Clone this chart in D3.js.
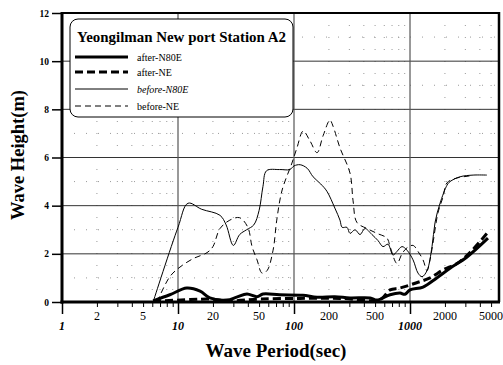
<!DOCTYPE html>
<html>
<head>
<meta charset="utf-8">
<script src="https://cdn.jsdelivr.net/npm/d3@7/dist/d3.min.js"></script>
<style>
  body { margin: 0; background: #fff; }
  text { font-family: "Liberation Serif", "DejaVu Serif", serif; }
</style>
</head>
<body>
<svg id="chart" width="503" height="365"></svg>
<script>
// wave period (sec) / wave height (m)
const afterN80E = [[6.1,0.05],[8.5,0.3],[11.9,0.58],[15.5,0.45],[18.8,0.17],[26.4,0.08],[32,0.2],[39.3,0.33],
  [48,0.22],[54,0.33],[75,0.3],[119,0.28],[158,0.2],[225,0.22],[304,0.17],[453,0.17],[519,0.08],[673,0.3],
  [820,0.37],[905,0.32],[1000,0.5],[1295,0.62],[1700,1.0],[2213,1.4],[3100,1.87],[4700,2.65]];
const afterNE = [[6.1,0.03],[12.7,0.1],[18.8,0.12],[28,0.05],[50.8,0.12],[113,0.15],[249,0.15],[550,0.1],
  [673,0.5],[820,0.58],[1140,0.8],[1487,1.0],[1923,1.33],[2540,1.6],[3250,2.03],[4700,2.9]];
const beforeN80E = [[6.1,0],[10,3.1],[12.2,4.1],[16,3.85],[23,3.6],[26,3.2],[30,2.35],[34,2.8],[39,3.0],
  [45,3.2],[50,3.8],[54,4.8],[58,5.45],[75,5.5],[92,5.5],[100,5.65],[113,5.7],[130,5.55],[146,5.2],[170,4.9],
  [192,4.6],[225,3.9],[249,3.4],[260,3.1],[286,3.1],[304,2.85],[336,3.0],[371,2.8],[409,3.05],[470,2.8],
  [530,2.55],[585,2.3],[646,2.4],[713,1.95],[772,2.1],[853,2.3],[942,2.15],[1062,1.75],[1172,1.2],[1269,1.05],
  [1401,1.3],[1548,2.3],[1643,3.3],[1815,4.1],[2085,4.85],[2213,5.0],[2700,5.2],[3500,5.27],[4600,5.27]];
const beforeNE = [[6.6,0],[8.5,1.05],[10.4,1.45],[13.5,1.8],[17.8,2.05],[20,2.3],[23,3.05],[28,3.4],[34,3.5],
  [40,3.1],[43.5,2.3],[48,1.75],[53,1.2],[58.5,1.3],[66,2.15],[71,3.4],[79,4.65],[96,5.77],[106,6.4],[120,7.1],
  [137,6.7],[158,6.2],[178,6.9],[204,7.55],[217,7.3],[249,6.4],[304,5.35],[323,4.2],[349,3.3],[426,3.05],
  [519,2.85],[634,2.65],[673,2.3],[772,1.6],[853,2.0],[942,2.25],[1062,2.35],[1172,2.1],[1295,1.75],[1401,1.3],
  [1487,1.75],[1578,2.45],[1742,3.7],[1923,4.35],[2085,4.95],[2540,5.15],[3100,5.22],[3500,5.26]];

const yTicks = [0, 2, 4, 6, 8, 10, 12];
const yMinor = [1, 3, 5, 7, 9, 11];
const xMajor = [1, 10, 100, 1000];
const xLabeled = [2, 5, 20, 50, 200, 500, 2000, 5000];
const seriesNames = ["after-N80E", "after-NE", "before-N80E", "before-NE"];

let svg = d3.select("#chart");
let pLeft = 62, pRight = 499, pTop = 13, pBottom = 302;

let x = d3.scaleLog().domain([1, 5850]).range([pLeft, pRight]);
let y = d3.scaleLinear().domain([0, 12]).range([pBottom, pTop]);

let xMinor = [];
for (let dec = 1; dec <= 1000; dec *= 10) {
    for (let k = 2; k <= 9; k++) {
        if (dec * k < 5850) xMinor.push(dec * k);
    }
}

// dotted minor grid (very faint in the original scan)
let grid = svg.append("g");
grid.selectAll(".vmin").data(xMinor).join("line")
    .attr("x1", d => x(d)).attr("x2", d => x(d))
    .attr("y1", pTop).attr("y2", pBottom)
    .attr("stroke", "#999").attr("stroke-width", 1).attr("stroke-dasharray", "1,11");
grid.selectAll(".hmin").data(yMinor).join("line")
    .attr("x1", pLeft).attr("x2", pRight)
    .attr("y1", d => y(d)).attr("y2", d => y(d))
    .attr("stroke", "#999").attr("stroke-width", 1).attr("stroke-dasharray", "1,11");

// solid major grid
grid.selectAll(".hmaj").data(yTicks.slice(1, -1)).join("line")
    .attr("x1", pLeft).attr("x2", pRight)
    .attr("y1", d => y(d)).attr("y2", d => y(d))
    .attr("stroke", "#333").attr("stroke-width", 1);
grid.selectAll(".vmaj").data([10, 100, 1000]).join("line")
    .attr("x1", d => x(d)).attr("x2", d => x(d))
    .attr("y1", pTop).attr("y2", pBottom)
    .attr("stroke", "#555").attr("stroke-width", 1.2);

// curves
let line = d3.line()
    .x(d => x(d[0]))
    .y(d => y(d[1]))
    .curve(d3.curveCatmullRom);

let styles = [
    {data: afterN80E, w: 3, dash: null},
    {data: afterNE, w: 3, dash: "8,4"},
    {data: beforeN80E, w: 1, dash: null},
    {data: beforeNE, w: 1, dash: "6,4"}
];

svg.selectAll(".curve").data(styles).join("path")
    .attr("d", d => line(d.data))
    .attr("fill", "none")
    .attr("stroke", "#000")
    .attr("stroke-width", d => d.w)
    .attr("stroke-dasharray", d => d.dash);

// frame
svg.append("line").attr("x1", pLeft).attr("x2", pRight).attr("y1", pTop).attr("y2", pTop)
    .attr("stroke", "#000").attr("stroke-width", 2);
svg.append("line").attr("x1", pRight).attr("x2", pRight).attr("y1", pTop - 1).attr("y2", pBottom)
    .attr("stroke", "#000").attr("stroke-width", 2.5);
svg.append("line").attr("x1", pLeft).attr("x2", pLeft).attr("y1", pTop - 1).attr("y2", pBottom + 1.5)
    .attr("stroke", "#000").attr("stroke-width", 3);
svg.append("line").attr("x1", pLeft - 1.5).attr("x2", pRight + 1).attr("y1", pBottom).attr("y2", pBottom)
    .attr("stroke", "#000").attr("stroke-width", 3);

// y axis
let yAxis = d3.axisLeft(y).tickValues(yTicks).tickSize(10).tickPadding(3);
let yg = svg.append("g").attr("transform", `translate(${pLeft},0)`).call(yAxis);
yg.select(".domain").remove();
yg.selectAll(".tick line").attr("stroke-width", 1.5);
yg.selectAll(".tick text").attr("font-family", "Liberation Serif").attr("font-weight", "bold")
    .attr("font-size", 9.5).attr("fill", "#000");

// x axis: major ticks long, minor short
let xg = svg.append("g").attr("transform", `translate(0,${pBottom})`);
xg.call(d3.axisBottom(x).tickValues(xMinor).tickSize(5).tickFormat(""));
xg.select(".domain").remove();
let xg2 = svg.append("g").attr("transform", `translate(0,${pBottom})`);
xg2.call(d3.axisBottom(x).tickValues(xMajor).tickSize(12).tickFormat(""));
xg2.select(".domain").remove();
xg2.selectAll(".tick line").attr("stroke-width", 1.5);

svg.selectAll(".xlab").data(xLabeled).join("text")
    .attr("x", d => x(d)).attr("y", 320)
    .attr("text-anchor", "middle").attr("font-size", 12)
    .text(d => d);
svg.selectAll(".xmaj").data(xMajor).join("text")
    .attr("x", d => x(d)).attr("y", 330)
    .attr("text-anchor", "middle").attr("font-size", 12)
    .attr("font-weight", "bold").attr("font-style", "italic")
    .text(d => d);

// axis titles
svg.append("text").attr("x", 276).attr("y", 357)
    .attr("text-anchor", "middle").attr("font-size", 19).attr("font-weight", "bold")
    .text("Wave Period(sec)");
svg.append("text").attr("transform", "translate(24,155) rotate(-90)")
    .attr("text-anchor", "middle").attr("font-size", 18.5).attr("font-weight", "bold")
    .text("Wave Height(m)");

// legend
let lg = svg.append("g");
lg.append("rect").attr("x", 70).attr("y", 19).attr("width", 223).attr("height", 98)
    .attr("rx", 8).attr("fill", "#fff").attr("stroke", "#000").attr("stroke-width", 1);
lg.append("text").attr("x", 77).attr("y", 42).attr("font-size", 15).attr("font-weight", "bold")
    .attr("textLength", 209).attr("lengthAdjust", "spacingAndGlyphs")
    .text("Yeongilman New port Station A2");
let rowY = [57, 72, 89, 106];
lg.selectAll(".lline").data(styles).join("line")
    .attr("x1", 75).attr("x2", 128)
    .attr("y1", (d, i) => rowY[i]).attr("y2", (d, i) => rowY[i])
    .attr("stroke", "#000").attr("stroke-width", d => d.w)
    .attr("stroke-dasharray", d => d.dash);
lg.selectAll(".ltext").data(seriesNames).join("text")
    .attr("x", 137).attr("y", (d, i) => rowY[i] + 3.5)
    .attr("font-size", 10)
    .attr("font-style", (d, i) => i == 2 ? "italic" : "normal")
    .text(d => d);
</script>
</body>
</html>
